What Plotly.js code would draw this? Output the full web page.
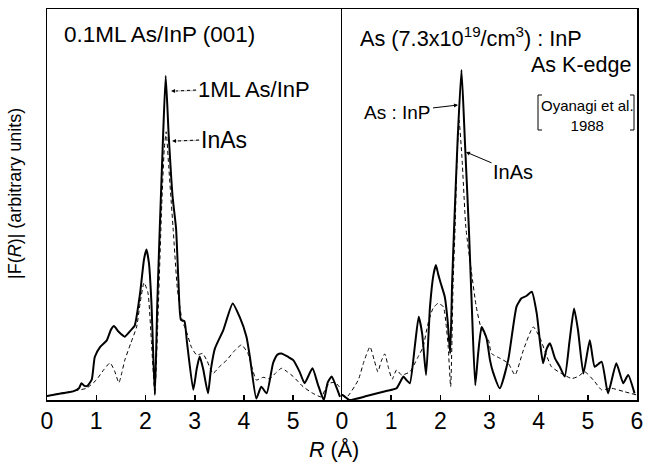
<!DOCTYPE html>
<html><head><meta charset="utf-8">
<script src="https://cdn.plot.ly/plotly-3.0.1.min.js"></script>
<style>html,body{margin:0;padding:0;background:#fff}</style>
</head><body><div id="chart" style="width:654px;height:465px"></div>
<script>
// Left panel: 0.1ML As/InP(001)
const leftSolidR = [0.00,0.25,0.53,0.65,0.70,0.76,0.82,0.91,0.97,1.08,1.21,1.30,1.36,1.45,1.58,1.70,1.78,1.89,1.97,2.02,2.07,2.12,2.19,2.24,2.29,2.35,2.41,2.47,2.55,2.62,2.67,2.72,2.79,2.84,2.97,3.04,3.10,3.17,3.27,3.33,3.41,3.58,3.77,3.91,4.05,4.12,4.25,4.35,4.46,4.59,4.68,4.76,4.90,5.00,5.13,5.23,5.39,5.50,5.62,5.70,5.78,5.86,5.95];
const leftSolidY = [1.0,1.6,2.2,3.0,4.3,3.6,3.6,5.3,11,13.6,15.2,18,18.9,17.5,16.2,17.8,19,27.3,36,38.5,35,25,1.3,25,44,65,82.9,68,52,44,30,20.5,20.2,15,2.6,8,11.1,8,1.7,8,13.2,17.9,24.7,21.3,16.2,11,0.4,3.4,1.7,9.4,11.6,11.9,11,10.2,7.2,4.3,8.1,4,0,4.5,6.0,3.8,0.8];
const leftDashR = [0.00,0.30,0.53,0.80,1.00,1.15,1.28,1.37,1.46,1.52,1.58,1.70,1.82,1.89,1.97,2.05,2.12,2.19,2.25,2.33,2.38,2.42,2.47,2.56,2.65,2.75,2.82,2.93,3.04,3.16,3.25,3.37,3.50,3.65,3.80,3.95,4.08,4.17,4.25,4.39,4.52,4.65,4.76,4.88,5.00,5.20,5.40,5.57,5.66,5.74,5.85,5.96];
const leftDashY = [1.0,1.8,2.3,3.0,5.1,7.7,9.5,7.5,4.4,7,10.2,14.5,18.7,24.7,30,27.4,15,1.5,20,50,64,68.6,60,44,28,20,18,13.6,11.5,11.9,10,6.8,8.5,10.2,12.5,14.1,11.9,8,5.1,5.8,5.4,7,8.1,7.2,6.0,3.4,1.7,0.8,3,4.3,4.5,3];
// Right panel: As (7.3x10^19/cm^3):InP
const rightSolidR = [0.00,0.06,0.15,0.50,0.90,1.11,1.20,1.25,1.31,1.38,1.48,1.56,1.63,1.71,1.79,1.86,1.91,1.96,2.01,2.09,2.15,2.20,2.24,2.28,2.35,2.43,2.50,2.58,2.64,2.71,2.77,2.84,2.94,3.01,3.07,3.21,3.38,3.55,3.65,3.75,3.86,3.96,4.03,4.09,4.16,4.23,4.33,4.43,4.53,4.63,4.72,4.80,4.91,5.04,5.14,5.28,5.41,5.58,5.72,5.82,5.95];
const rightSolidY = [1.3,0.8,0.0,1.0,2.3,3.0,5.0,6.0,5.1,4.3,13.6,21.3,17.0,6.4,23.9,32,34.5,32,29.8,26.4,20,11.9,30,44,66,84.4,66,44,24,3.8,12,18.7,15.8,10.2,7.2,3.0,10.2,23.9,26.0,26.6,27.7,22.2,14.5,9.4,13,14.5,10.7,8.5,6.0,15.3,23.4,17.9,6.8,15.3,8.5,9.8,1.7,9.4,4.3,6.4,1.7];
const rightDashR = [0.00,0.10,0.33,0.45,0.57,0.66,0.73,0.80,0.87,0.95,1.02,1.11,1.21,1.38,1.55,1.65,1.75,1.85,1.95,2.06,2.12,2.16,2.21,2.26,2.30,2.34,2.38,2.44,2.52,2.63,2.73,2.84,2.98,3.04,3.21,3.38,3.52,3.69,3.89,4.03,4.13,4.26,4.46,4.67,4.80,4.94,5.14,5.28,5.48,5.75,5.99];
const rightDashY = [1.5,0.8,5.1,10,13.6,10,7.2,10,11.8,8,5.3,7.7,6.4,7.2,11.1,13.6,19.6,23.4,24.7,23.9,19,13.6,3.4,30,44,62,71.6,62,44,33,23.9,17.9,15.3,11.9,10.7,9.4,6.4,12.8,18.7,15.8,12.4,8.5,6.8,5.5,6,7.2,4.7,2.6,3.0,2.1,1.3];
const leftTicks = [0,1,2,3,4,5];
const rightTicks = [0,1,2,3,4,5,6];

const solidLine = {color:'#000', width:2, shape:'spline', smoothing:0.5};
const dashLine = {color:'#000', width:1, dash:'4px,3px', shape:'spline', smoothing:0.5};
const traces = [
  {x:leftSolidR, y:leftSolidY, xaxis:'x', yaxis:'y', mode:'lines', line:solidLine},
  {x:leftDashR, y:leftDashY, xaxis:'x', yaxis:'y', mode:'lines', line:dashLine},
  {x:rightSolidR, y:rightSolidY, xaxis:'x2', yaxis:'y2', mode:'lines', line:solidLine},
  {x:rightDashR, y:rightDashY, xaxis:'x2', yaxis:'y2', mode:'lines', line:dashLine}
];
const W=654, H=465;
const px = v => v/W, py = v => (H-v)/H;
const FAM = 'Liberation Sans, Arial, sans-serif';
const f = s => ({family:FAM, size:s, color:'#000'});
const axBase = {showline:true, mirror:true, linecolor:'#000', linewidth:1.5, showgrid:false, zeroline:false,
  ticks:'inside', ticklen:5, tickwidth:1.5, tickcolor:'#000', tickfont:f(23)};
const yBase = {showline:true, linecolor:'#000', linewidth:1.5, showgrid:false, zeroline:false,
  showticklabels:false, ticks:'', range:[0,100], domain:[py(400), py(9)]};
const layout = {
  width:W, height:H, margin:{l:0,r:0,t:0,b:0}, paper_bgcolor:'#fff', plot_bgcolor:'#fff', showlegend:false,
  xaxis: Object.assign({}, axBase, {domain:[px(47), px(342)], range:[0,5.99], tickvals:leftTicks, anchor:'y'}),
  xaxis2: Object.assign({}, axBase, {domain:[px(342), px(637)], range:[0,6], tickvals:rightTicks, anchor:'y2'}),
  yaxis: Object.assign({}, yBase, {anchor:'x', mirror:false}),
  yaxis2: Object.assign({}, yBase, {anchor:'x2', mirror:true}),
  shapes: [
    {type:'line', xref:'paper', yref:'paper', x0:px(196), x1:px(176), y0:py(90), y1:py(91), line:{color:'#000', width:1, dash:'3px,3px'}},
    {type:'line', xref:'paper', yref:'paper', x0:px(199), x1:px(177), y0:py(140), y1:py(141), line:{color:'#000', width:1, dash:'3px,3px'}},
    {type:'path', xref:'paper', yref:'paper', path:`M ${px(542)} ${py(95)} L ${px(538)} ${py(95)} L ${px(538)} ${py(130)} L ${px(542)} ${py(130)}`, line:{color:'#000', width:1}},
    {type:'path', xref:'paper', yref:'paper', path:`M ${px(630)} ${py(95)} L ${px(634)} ${py(95)} L ${px(634)} ${py(130)} L ${px(630)} ${py(130)}`, line:{color:'#000', width:1}}
  ],
  annotations: [
    {xref:'paper', yref:'paper', x:px(62), y:py(34), xanchor:'left', yanchor:'middle', showarrow:false, text:'0.1ML As/InP (001)', font:f(22.5)},
    {xref:'paper', yref:'paper', x:px(171), y:py(91), ax:83, ay:-1, showarrow:true, arrowhead:2, arrowwidth:0.3, arrowsize:2.7, arrowcolor:'#000', text:'1ML As/InP', font:f(22)},
    {xref:'paper', yref:'paper', x:px(172), y:py(141), ax:52, ay:-1, showarrow:true, arrowhead:2, arrowwidth:0.3, arrowsize:2.7, arrowcolor:'#000', text:'InAs', font:f(23)},
    {xref:'paper', yref:'paper', x:px(358), y:py(37), xanchor:'left', yanchor:'middle', showarrow:false, text:'As (7.3x10<sup>19</sup>/cm<sup>3</sup>) : InP', font:f(21.7)},
    {xref:'paper', yref:'paper', x:px(633), y:py(65), xanchor:'right', yanchor:'middle', showarrow:false, text:'As K-edge', font:f(21.5)},
    {xref:'paper', yref:'paper', x:px(587), y:py(115), xanchor:'center', yanchor:'middle', showarrow:false, text:'Oyanagi et al.<br>1988', align:'center', font:f(15)},
    {xref:'paper', yref:'paper', x:px(458), y:py(105), ax:-60, ay:7, showarrow:true, arrowhead:2, arrowsize:0.8, arrowwidth:1, arrowcolor:'#000', text:'As : InP', font:f(19)},
    {xref:'paper', yref:'paper', x:px(466), y:py(152), ax:47, ay:20, showarrow:true, arrowhead:2, arrowsize:0.8, arrowwidth:1, arrowcolor:'#000', text:'InAs', font:f(20)},
    {xref:'paper', yref:'paper', x:px(334), y:py(450), xanchor:'center', yanchor:'middle', showarrow:false, text:'<i>R</i> (Å)', font:f(21.5)},
    {xref:'paper', yref:'paper', x:px(15), y:py(194), xanchor:'center', yanchor:'middle', showarrow:false, textangle:-90, text:'|F(<i>R</i>)| (arbitrary units)', font:f(18)}
  ]
};
Plotly.newPlot('chart', traces, layout, {staticPlot:true, displayModeBar:false});
</script>
</body></html>
